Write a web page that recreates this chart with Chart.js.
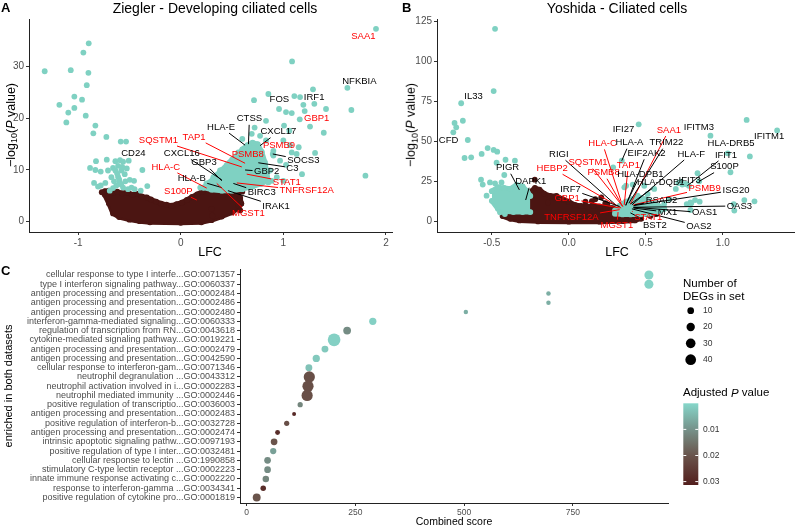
<!DOCTYPE html>
<html>
<head>
<meta charset="utf-8">
<script src="https://cdn.jsdelivr.net/npm/chart.js@4.4.1/dist/chart.umd.min.js"></script>
<style>
  html, body { margin: 0; padding: 0; background: #fff; }
  #wrap { position: relative; width: 798px; height: 526px; overflow: hidden; }
  canvas { position: absolute; }
  .t { position: absolute; white-space: nowrap; line-height: 1; color: #000;
       font-family: "Liberation Sans", Arial, Helvetica, sans-serif; }
  .c { transform: translate(-50%, -50%); }
  .r { transform: translate(-50%, -50%) rotate(-90deg); }
  .tag { font-weight: bold; font-size: 13px; }
  sub { font-size: 0.72em; vertical-align: -0.3em; line-height: 0; }
</style>
</head>
<body>
<div id="wrap">
  <canvas id="chartA" width="400" height="262" style="left:0;top:0"></canvas>
  <canvas id="chartB" width="398" height="262" style="left:400px;top:0"></canvas>
  <canvas id="chartC" width="798" height="264" style="left:0;top:262px"></canvas>

  <div class="t tag" style="left:1px;top:1px">A</div>
  <div class="t tag" style="left:402px;top:1px">B</div>
  <div class="t tag" style="left:1px;top:264px">C</div>

  <div class="t c" style="left:215px;top:8px;font-size:14px">Ziegler - Developing ciliated cells</div>
  <div class="t c" style="left:617px;top:8px;font-size:14px">Yoshida - Ciliated cells</div>

  <div class="t c" style="left:210px;top:252px;font-size:12.5px">LFC</div>
  <div class="t c" style="left:617px;top:252px;font-size:12.5px">LFC</div>
  <div class="t r" style="left:11px;top:125px;font-size:12.5px">&minus;log<sub>10</sub>(<i>P</i> value)</div>
  <div class="t r" style="left:411px;top:125px;font-size:12.5px">&minus;log<sub>10</sub>(<i>P</i> value)</div>

  <div class="t c" style="left:454px;top:521px;font-size:10.5px">Combined score</div>
  <div class="t r" style="left:8px;top:386px;font-size:11px">enriched in both datasets</div>
</div>

<script>
/* Volcano plots (A, B) + GO term dot plot (C) */

const FONT  = '"Liberation Sans", Arial, Helvetica, sans-serif';
const CYAN  = '#7fd1c2';
const BROWN = '#4b1512';
const RED   = '#ff0000';
const TICK  = '#4d4d4d';

Chart.defaults.font.family = FONT;
Chart.defaults.animation = false;

/* ── Panel A data: [LFC, -log10 P] ─────────────────────────── */
const cyanA = [
  [-1.326,29.1],[-1.072,29.3],[-0.897,34.5],[-0.949,32.7],[-0.90,28.8],[-0.916,26.4],[-1.037,24.2],
  [-0.962,23.6],[-1.183,22.6],[-1.037,22.0],[-1.096,21.1],[-0.926,20.5],[-1.115,19.2],[-0.832,18.6],
  [-0.852,17.1],[-0.725,16.4],[-0.585,15.5],[-0.533,15.5],[-0.826,11.7],[-0.721,12.0],[-0.884,10.4],
  [-0.832,10.0],[-0.78,9.7],[-0.845,7.5],[-0.806,6.8],[-0.78,7.0],[-0.735,7.5],[-0.374,10.0],
  [-0.326,6.9],[-0.39,6.0],
  [-0.637,11.7],[-0.592,11.9],[-0.562,11.6],[-0.611,10.8],[-0.66,10.4],[-0.637,9.9],[-0.579,9.9],
  [-0.526,10.3],[-0.676,8.6],[-0.611,8.7],[-0.546,9.2],[-0.497,8.1],[-0.455,7.9],[-0.595,7.6],
  [-0.628,7.0],[-0.562,6.6],[-0.514,6.3],[-0.66,6.5],[-0.692,6.0],[-0.507,11.8],[-0.709,9.9],
  [-0.60,8.2],[-0.58,7.2],[-0.54,7.8],[-0.65,7.8],[-0.62,9.3],[-0.57,10.6],[-0.48,6.6],[-0.45,6.3],
  [1.903,37.3],[1.085,31.0],[1.289,25.6],[1.624,25.9],[1.663,21.6],[0.854,24.7],[0.714,23.5],
  [1.107,24.3],[1.163,24.1],[1.302,22.8],[1.195,22.6],[1.416,21.8],[0.958,21.8],[1.026,21.2],
  [1.082,21.0],[1.208,21.4],[1.16,19.8],[1.26,18.4],[1.007,18.6],[1.394,17.2],[0.831,19.5],
  [1.059,17.6],[1.80,8.9],[1.309,13.3],[1.182,9.2],[1.065,14.8],[1.082,13.4],[1.15,14.4],
  [1.0,15.7],[1.026,11.0],[0.968,11.8],[0.903,12.8],[0.805,11.8],[0.87,9.9],[0.795,8.7],
  [0.887,7.9],[1.0,7.9],[0.897,13.1],
  [0.48,11.5],[0.383,9.9],[0.318,8.6],[0.561,13.4],[0.659,14.7],[0.831,15.7],[0.903,13.7],
  [0.773,16.6],[0.692,17.0],[1.13,13.1],[0.936,8.6],[0.854,7.6],[0.692,7.6],[0.19,6.6],
  [0.25,7.4],[0.72,18.2],[0.60,16.0]
];
const cyanTopA = [[0.22,6.6],[0.28,7.6],[0.34,8.9],[0.40,10.0],[0.45,11.0],[0.50,12.0],[0.55,12.8],
  [0.60,14.0],[0.65,14.8],[0.70,15.3],[0.75,15.0],[0.79,13.5],[0.82,11.5],[0.84,9.5],[0.85,8.0]];
const cyanLowA = [[0.22,6.6],[0.30,6.2],[0.40,6.0],[0.50,6.0],[0.60,6.3],[0.70,6.8],[0.78,7.3],[0.85,8.0]];
const brownA = [[0.562,3.1],[0.308,1.16],[0.302,2.5],[0.60,5.8],[-0.77,5.7],[0.58,2.2]];
const brownTopA = [[-0.74,5.9],[-0.70,6.0],[-0.66,5.6],[-0.62,5.8],[-0.57,5.5],[-0.52,5.7],[-0.47,5.2],
  [-0.42,5.4],[-0.38,4.9],[-0.33,4.7],[-0.29,4.3],[-0.24,3.9],[-0.19,3.5],[-0.14,3.3],[-0.09,3.1],
  [-0.04,3.4],[0.01,3.7],[0.06,4.2],[0.11,4.8],[0.16,5.3],[0.21,5.8],[0.26,6.1],[0.31,6.4],
  [0.36,6.6],[0.41,6.5],[0.46,6.3],[0.51,6.0],[0.55,5.5],[0.58,4.6],[0.59,3.5]];
const brownLowA = [[-0.74,5.2],[-0.70,3.5],[-0.66,1.6],[-0.60,0.9],[-0.50,0.4],[-0.40,0.1],[-0.30,-0.1],
  [0.0,-0.2],[0.20,-0.1],[0.30,0.3],[0.40,1.0],[0.50,1.8],[0.56,2.6],[0.59,3.5]];
const xTicksA = [-1, 0, 1, 2];
const yTicksA = [0, 10, 20, 30];

/* ── Panel B data ─────────────────────────────────────────── */
const cyanB = [
  [-0.479,120.2],[-0.488,81.4],[-0.699,73.8],[-0.688,62.9],[-0.742,61.5],[-0.731,58.8],[-0.75,55.7],
  [-0.656,50.9],[-0.677,39.7],[-0.634,40.1],[-0.527,45.9],[-0.488,44.7],[-0.465,43.6],[-0.566,42.2],
  [-0.411,38.6],[-0.35,38.0],[-0.469,36.8],[-0.419,29.1],[-0.57,26.2],[-0.559,23.1],[-0.512,24.5],
  [-0.479,23.9],[-0.437,24.5],[-0.534,16.2],[-0.447,5.9],[-0.415,4.8],
  [0.454,60.7],[1.155,63.4],[1.353,56.9],[0.92,53.6],[1.176,40.7],[0.344,38.0],[0.288,33.9],
  [1.05,30.8],[0.836,30.2],[0.847,25.2],[0.712,24.1],[0.76,23.5],[0.78,22.4],[0.415,23.1],
  [0.372,22.4],[0.49,22.4],[0.555,20.4],[1.206,12.7],[1.071,11.0],[1.075,6.9],[0.79,12.1],
  [0.82,13.5],[0.766,11.0],[0.79,7.3],[0.652,14.1],[0.619,11.0],[0.73,24.9],[0.795,11.5],
  [0.85,12.5],[1.14,13.5],[1.032,42.6],[0.695,20.4],[0.737,23.1],[0.512,17.3],[0.447,16.2],
  [0.361,21.4]
];
const cyanTopB1 = [[-0.50,19],[-0.46,21.5],[-0.42,21],[-0.38,20.5],[-0.34,23],[-0.30,22],[-0.27,19],[-0.25,16]];
const cyanLowB1 = [[-0.50,13],[-0.46,8],[-0.42,6.5],[-0.36,6],[-0.30,6],[-0.25,6]];
const cyanTopB2 = [[0.30,7],[0.33,10],[0.37,12.5],[0.41,14],[0.46,15],[0.50,14],[0.54,12],[0.58,10],[0.62,8]];
const cyanLowB2 = [[0.30,5],[0.35,4.5],[0.40,4.5],[0.46,4.5],[0.52,5],[0.58,6],[0.62,8]];
const brownB = [[-0.221,26.2],[-0.135,12.1],[0.172,14],[0.211,15.2],[0.237,11.5],[0.108,12.5],
  [0.505,4.8],[0.57,5.0],[0.566,4.8],[-0.387,6.2],[0.15,12.8],[0.25,10.8],[0.53,3.5]];
const brownTopB = [[-0.43,5.0],[-0.40,7.5],[-0.36,9.5],[-0.32,12],[-0.28,15],[-0.25,18.5],[-0.22,21],
  [-0.19,20],[-0.16,17.5],[-0.12,16],[-0.08,16],[-0.04,14],[0.0,12.5],[0.04,10.5],[0.08,9.8],
  [0.12,9.5],[0.16,9.8],[0.20,9.5],[0.24,9.0],[0.28,8.5],[0.32,8.5],[0.36,8.0],[0.40,7.5],
  [0.43,6.0],[0.46,4.0],[0.47,2.0]];
const brownLowB = [[-0.43,3.5],[-0.38,1.8],[-0.32,0.8],[-0.20,0.2],[0.0,0.0],[0.20,0.0],[0.35,0.3],
  [0.43,0.8],[0.47,2.0]];
const xTicksB = [-0.5, 0, 0.5, 1.0];
const yTicksB = [0, 25, 50, 75, 100, 125];

/* ── Gene labels: [text, red?, label LFC, label y, point LFC, point y] ── */
const labelsA = [
  ['SAA1',1,1.78,35.9], ['NFKBIA',0,1.741,27.2], ['FOS',0,0.961,23.6], ['IRF1',0,1.30,24.1],
  ['GBP1',1,1.325,19.9], ['CTSS',0,0.669,19.9,0.66,15.0], ['HLA-E',0,0.393,18.3,0.627,14.8],
  ['CXCL17',0,0.952,17.4,0.773,14.7], ['PSMB9',1,0.958,14.8], ['SQSTM1',1,-0.218,15.8,0.595,10.6],
  ['TAP1',1,0.13,16.4,0.627,11.3], ['PSMB8',1,0.653,13.0], ['SOCS3',0,1.195,11.9,0.897,13.1],
  ['C3',0,1.088,10.4,0.756,11.4], ['GBP2',0,0.838,9.7,0.627,10.0], ['CD24',0,-0.462,13.2],
  ['CXCL16',0,0.01,13.2,0.40,8.1], ['GBP3',0,0.227,11.4,0.40,7.9], ['HLA-C',1,-0.146,10.6,0.253,6.5],
  ['HLA-B',0,0.107,8.3,0.40,6.6], ['BIRC3',0,0.789,5.6,0.513,7.4], ['STAT1',1,1.033,7.7,0.643,9.2],
  ['TNFRSF12A',1,1.228,6.0,0.546,7.5], ['S100P',1,-0.023,5.9,0.156,4.2],
  ['MGST1',1,0.659,1.6,0.351,7.4], ['IRAK1',0,0.929,3.0,0.46,6.0]
];
const labelsB = [
  ['IL33',0,-0.619,77.9], ['CFD',0,-0.781,50.9], ['PIGR',0,-0.398,33.6,-0.321,19.8],
  ['DAPK1',0,-0.247,24.9,-0.28,13.5], ['IFI27',0,0.355,57.6], ['SAA1',1,0.65,57.1,0.40,11],
  ['IFITM3',0,0.845,58.6], ['IFITM1',0,1.301,53.0], ['HLA-C',1,0.219,48.8,0.34,12.5],
  ['HLA-A',0,0.394,49.2,0.344,38.0], ['TRIM22',0,0.634,49.2,0.39,11.5], ['HLA-DRB5',0,1.054,48.8],
  ['RIGI',0,-0.065,42.0,0.31,10], ['EIF2AK2',0,0.505,42.6,0.37,10], ['HLA-F',0,0.795,42.2,0.41,10.5],
  ['IFIT1',0,1.021,41.6,0.77,22.4], ['HEBP2',1,-0.108,33.3,0.34,8.5], ['SQSTM1',1,0.125,36.8,0.35,9.5],
  ['TAP1',1,0.387,35.3,0.36,10.5], ['PSMB8',1,0.226,30.5,0.35,9.5], ['HLA-DPB1',0,0.465,29.5,0.37,10.5],
  ['HLA-DQB1',0,0.598,24.5,0.40,11], ['IFIT3',0,0.785,26.0], ['S100P',0,1.011,34.3,0.847,25.2],
  ['PSMB9',1,0.882,20.8,0.42,10.5], ['ISG20',0,1.086,19.8,0.42,10], ['IRF7',0,0.011,20.2,0.33,9.5],
  ['GBP1',1,-0.011,14.6,0.33,8.5], ['RSAD2',0,0.602,13.5,0.43,10.5], ['OAS3',0,1.108,9.8,0.42,9],
  ['MX1',0,0.641,5.9,0.42,8.5], ['OAS1',0,0.882,5.6,0.42,9], ['OAS2',0,0.845,-2.7,0.41,8],
  ['TNFRSF12A',1,0.017,2.5,0.33,7.5], ['MGST1',1,0.312,-2.5,0.32,6], ['BST2',0,0.559,-2.5,0.40,5.5],
  ['STAT1',1,0.516,2.7,0.41,6.5]
];

/* ── Panel C data ─────────────────────────────────────────── */
const termsC = [
  'cellular response to type I interfe...GO:0071357',
  'type I interferon signaling pathway...GO:0060337',
  'antigen processing and presentation...GO:0002484',
  'antigen processing and presentation...GO:0002486',
  'antigen processing and presentation...GO:0002480',
  'interferon-gamma-mediated signaling...GO:0060333',
  'regulation of transcription from RN...GO:0043618',
  'cytokine-mediated signaling pathway...GO:0019221',
  'antigen processing and presentation...GO:0002479',
  'antigen processing and presentation...GO:0042590',
  'cellular response to interferon-gam...GO:0071346',
  'neutrophil degranulation ...GO:0043312',
  'neutrophil activation involved in i...GO:0002283',
  'neutrophil mediated immunity ...GO:0002446',
  'positive regulation of transcriptio...GO:0036003',
  'antigen processing and presentation...GO:0002483',
  'positive regulation of interferon-b...GO:0032728',
  'antigen processing and presentation...GO:0002474',
  'intrinsic apoptotic signaling pathw...GO:0097193',
  'positive regulation of type I inter...GO:0032481',
  'cellular response to lectin ...GO:1990858',
  'stimulatory C-type lectin receptor ...GO:0002223',
  'innate immune response activating c...GO:0002220',
  'response to interferon-gamma ...GO:0034341',
  'positive regulation of cytokine pro...GO:0001819'
];
const scoreC = [925,925,694,694,504,290,231,201,180,160,143,144,141,139,123,109,92,71,63,61,48,48,44,38,23];
const genesC = [25,25,2,2,2,13,16,62,11,13,11,45,45,45,4,1,4,3,10,8,10,10,9,5,17];
const padjC  = [0.0005,0.0005,0.006,0.006,0.006,0.001,0.011,0.001,0.002,0.002,0.003,0.021,0.021,0.021,
                0.012,0.029,0.021,0.028,0.020,0.008,0.011,0.011,0.012,0.028,0.020];
const xTicksC = [0, 250, 500, 750];
const sizeKeys = [10, 20, 30, 40];
const padjKeys = [0.01, 0.02, 0.03];

/* ── helpers ──────────────────────────────────────────────── */
const pts = arr => arr.map(([x, y]) => ({ x, y }));
const dotR = n => (2.7 + 1.266 * Math.sqrt(n)) / 2;
const PADJ_MAX = 0.0313;
const colStops = [[0, [134,215,202]], [0.01, [118,146,138]], [0.02, [106,84,75]], [PADJ_MAX, [82,30,28]]];
function padjColor(p) {
  p = Math.max(0, Math.min(PADJ_MAX, p));
  for (let i = 1; i < colStops.length; i++) {
    const [p1, c1] = colStops[i], [p0, c0] = colStops[i - 1];
    if (p <= p1) {
      const f = (p - p0) / (p1 - p0);
      return `rgb(${c0.map((v, k) => Math.round(v + (c1[k] - v) * f)).join(',')})`;
    }
  }
}

function fixedTicks(values) {
  return scale => { scale.ticks = values.map(v => ({ value: v })); };
}

function axis(opts) {
  return {
    type: 'linear', min: opts.min, max: opts.max, reverse: !!opts.reverse,
    afterBuildTicks: fixedTicks(opts.ticks),
    afterFit: s => { if (opts.w != null) s.width = opts.w; if (opts.h != null) s.height = opts.h; },
    grid: { display: true, drawOnChartArea: false, drawTicks: true, tickLength: 3, color: '#333' },
    border: { display: true, color: '#222', width: 1 },
    ticks: { color: TICK, font: { size: opts.size || 10 }, padding: 2, autoSkip: false,
             maxRotation: 0, callback: opts.cb || (v => String(v)) }
  };
}

function labelPlugin(items) {
  return {
    id: 'geneLabels',
    afterDatasetsDraw(chart) {
      const { ctx, scales: { x, y } } = chart;
      ctx.save();
      ctx.font = '9.5px ' + FONT;
      ctx.textAlign = 'center';
      ctx.textBaseline = 'middle';
      ctx.lineWidth = 1;
      items.forEach(([t, red, lx, ly, px, py]) => {
        const col = red ? RED : '#000';
        const cx = x.getPixelForValue(lx), cy = y.getPixelForValue(ly);
        if (px != null) {
          const tx = x.getPixelForValue(px), ty = y.getPixelForValue(py);
          const hw = ctx.measureText(t).width / 2 + 1.5, hh = 6;
          const dx = tx - cx, dy = ty - cy;
          const s = Math.min(dx ? hw / Math.abs(dx) : Infinity, dy ? hh / Math.abs(dy) : Infinity);
          if (s < 1) {
            ctx.strokeStyle = col;
            ctx.beginPath();
            ctx.moveTo(cx + dx * s, cy + dy * s);
            ctx.lineTo(tx, ty);
            ctx.stroke();
          }
        }
        ctx.fillStyle = col;
        ctx.fillText(t, cx, cy);
      });
      ctx.restore();
    }
  };
}

function areaPair(top, low, color) {
  const base = { type: 'line', borderColor: color, backgroundColor: color, borderWidth: 5,
                 borderJoinStyle: 'round', borderCapStyle: 'round', tension: 0,
                 pointRadius: 2.9, pointBackgroundColor: color, pointBorderWidth: 0 };
  return [ { ...base, data: pts(top), fill: '+1' }, { ...base, data: pts(low), fill: false } ];
}

function dots(arr, color) {
  return { type: 'scatter', data: pts(arr), pointRadius: 2.9, backgroundColor: color, borderWidth: 0 };
}

/* ── A & B: volcano plots ─────────────────────────────────── */
function volcano(id, cfg) {
  new Chart(document.getElementById(id), {
    type: 'scatter',
    data: {
      datasets: [
        dots(cfg.cyan, CYAN),
        ...cfg.cyanAreas.flatMap(([t, l]) => areaPair(t, l, CYAN)),
        dots(cfg.brown, BROWN),
        ...areaPair(cfg.brownTop, cfg.brownLow, BROWN)
      ]
    },
    options: {
      responsive: false,
      layout: { padding: cfg.pad },
      plugins: { legend: { display: false }, tooltip: { enabled: false } },
      scales: { x: cfg.x, y: cfg.y }
    },
    plugins: [labelPlugin(cfg.labels)]
  });
}

volcano('chartA', {
  cyan: cyanA, cyanAreas: [[cyanTopA, cyanLowA]], brown: brownA,
  brownTop: brownTopA, brownLow: brownLowA, labels: labelsA,
  pad: { top: 19, right: 8, left: 0, bottom: 0 },
  x: axis({ min: -1.479, max: 2.059, ticks: xTicksA, h: 30 }),
  y: axis({ min: -1.99, max: 39.2, ticks: yTicksA, w: 29 })
});

volcano('chartB', {
  cyan: cyanB, cyanAreas: [[cyanTopB1, cyanLowB1], [cyanTopB2, cyanLowB2]], brown: brownB,
  brownTop: brownTopB, brownLow: brownLowB, labels: labelsB,
  pad: { top: 19, right: 1, left: 0, bottom: 0 },
  x: axis({ min: -0.856, max: 1.4626, ticks: xTicksB, h: 30, cb: v => v.toFixed(1) }),
  y: axis({ min: -6.42, max: 126.3, ticks: yTicksB, w: 37 })
});

/* ── C: GO term dot plot ──────────────────────────────────── */
const legendC = {
  id: 'legendC',
  afterDraw(chart) {
    const ctx = chart.ctx;
    ctx.save();
    ctx.textAlign = 'left';
    ctx.textBaseline = 'middle';
    ctx.fillStyle = '#000';
    ctx.font = '11.5px ' + FONT;
    ctx.fillText('Number of', 683, 22);
    ctx.fillText('DEGs in set', 683, 35.3);
    ctx.font = '8.5px ' + FONT;
    sizeKeys.forEach((n, i) => {
      const cy = 48.7 + i * 16.33;
      ctx.fillStyle = '#000';
      ctx.beginPath(); ctx.arc(690.7, cy, dotR(n), 0, Math.PI * 2); ctx.fill();
      ctx.fillStyle = '#333';
      ctx.fillText(String(n), 703, cy);
    });
    // Adjusted P value title
    ctx.fillStyle = '#000';
    ctx.font = '11.5px ' + FONT;
    let x = 683;
    ctx.fillText('Adjusted ', x, 131.3); x += ctx.measureText('Adjusted ').width;
    ctx.font = 'italic 11.5px ' + FONT;
    ctx.fillText('P', x, 131.3); x += ctx.measureText('P').width;
    ctx.font = '11.5px ' + FONT;
    ctx.fillText(' value', x, 131.3);
    // colour bar
    const top = 141.3, bot = 223, left = 683.3, w = 15;
    const g = ctx.createLinearGradient(0, top, 0, bot);
    for (let k = 0; k <= 20; k++) g.addColorStop(k / 20, padjColor(PADJ_MAX * k / 20));
    ctx.fillStyle = g;
    ctx.fillRect(left, top, w, bot - top);
    ctx.strokeStyle = '#fff';
    ctx.lineWidth = 1;
    ctx.font = '8.5px ' + FONT;
    padjKeys.forEach(p => {
      const yy = top + (bot - top) * p / PADJ_MAX;
      ctx.beginPath();
      ctx.moveTo(left, yy); ctx.lineTo(left + 3, yy);
      ctx.moveTo(left + w - 3, yy); ctx.lineTo(left + w, yy);
      ctx.stroke();
      ctx.fillStyle = '#333';
      ctx.fillText(p.toFixed(2), 703, yy);
    });
    ctx.restore();
  }
};

new Chart(document.getElementById('chartC'), {
  type: 'scatter',
  data: {
    datasets: [{
      data: termsC.map((t, i) => ({ x: scoreC[i], y: i + 1 })),
      pointRadius: c => dotR(genesC[c.dataIndex]),
      backgroundColor: c => padjColor(padjC[c.dataIndex]),
      borderWidth: 0
    }]
  },
  options: {
    responsive: false,
    layout: { padding: { top: 7.4, right: 129.7, left: 0, bottom: 0 } },
    plugins: { legend: { display: false }, tooltip: { enabled: false } },
    scales: {
      x: axis({ min: -15.4, max: 969.6, ticks: xTicksC, h: 23, size: 8.5 }),
      y: axis({ min: 0.4, max: 25.6, reverse: true, ticks: termsC.map((t, i) => i + 1), w: 240,
                size: 9, cb: v => termsC[v - 1] })
    }
  },
  plugins: [legendC]
});
</script>
</body>
</html>
